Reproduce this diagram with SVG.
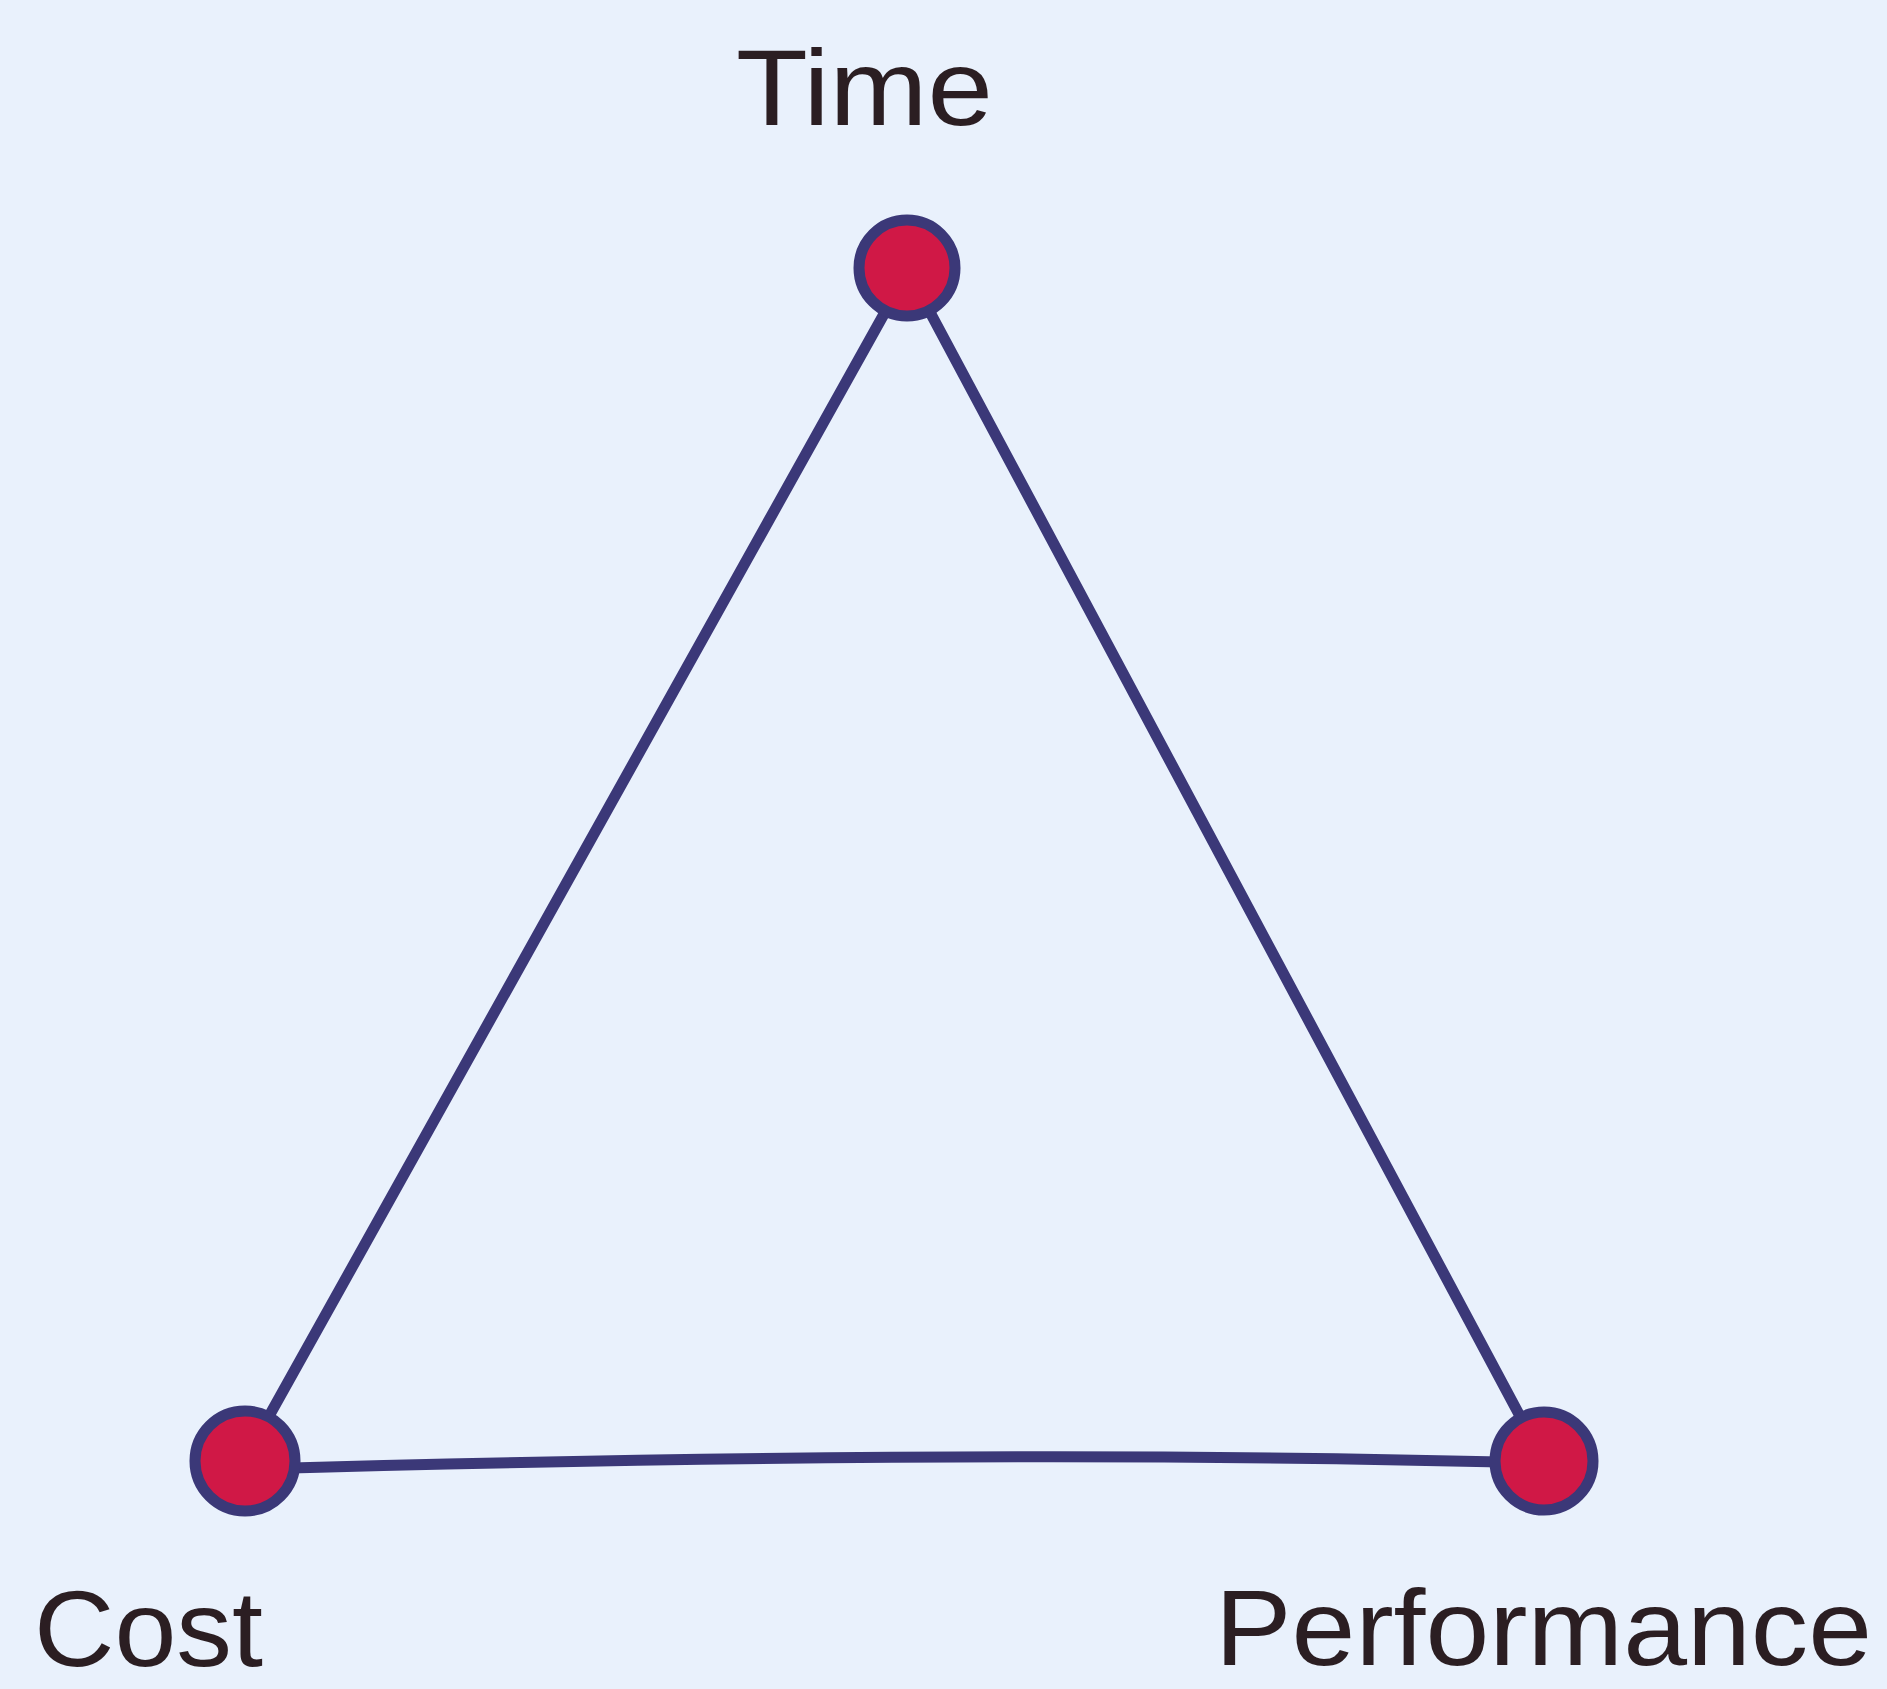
<svg xmlns="http://www.w3.org/2000/svg" width="1887" height="1689" viewBox="0 0 1887 1689">
<style>
.edge{fill:none;stroke:#3b3878;stroke-width:11;stroke-linecap:round}
.dot{fill:#d01846;stroke:#3b3878;stroke-width:11}
.lbl{font-family:"Liberation Sans",Arial,sans-serif;font-size:108px;fill:#2b1e22}
</style>
<rect width="1887" height="1689" fill="#e9f1fc"/>
<g id="connectors">
<line class="edge" x1="908" y1="271" x2="244" y2="1461"/>
<line class="edge" x1="908" y1="271" x2="1544" y2="1461"/>
<path class="edge" d="M 250 1469 Q 1000 1448 1540 1463"/>
</g>
<g id="time">
<circle class="dot" cx="907" cy="268" r="48"/>
<text class="lbl" x="736" y="125" textLength="257" lengthAdjust="spacingAndGlyphs">Time</text>
</g>
<g id="cost">
<circle class="dot" cx="245" cy="1461" r="50"/>
<text class="lbl" x="34" y="1666" textLength="229" lengthAdjust="spacingAndGlyphs">Cost</text>
</g>
<g id="performance">
<circle class="dot" cx="1544" cy="1461" r="49"/>
<text class="lbl" x="1215" y="1665" textLength="657" lengthAdjust="spacingAndGlyphs">Performance</text>
</g>
</svg>
